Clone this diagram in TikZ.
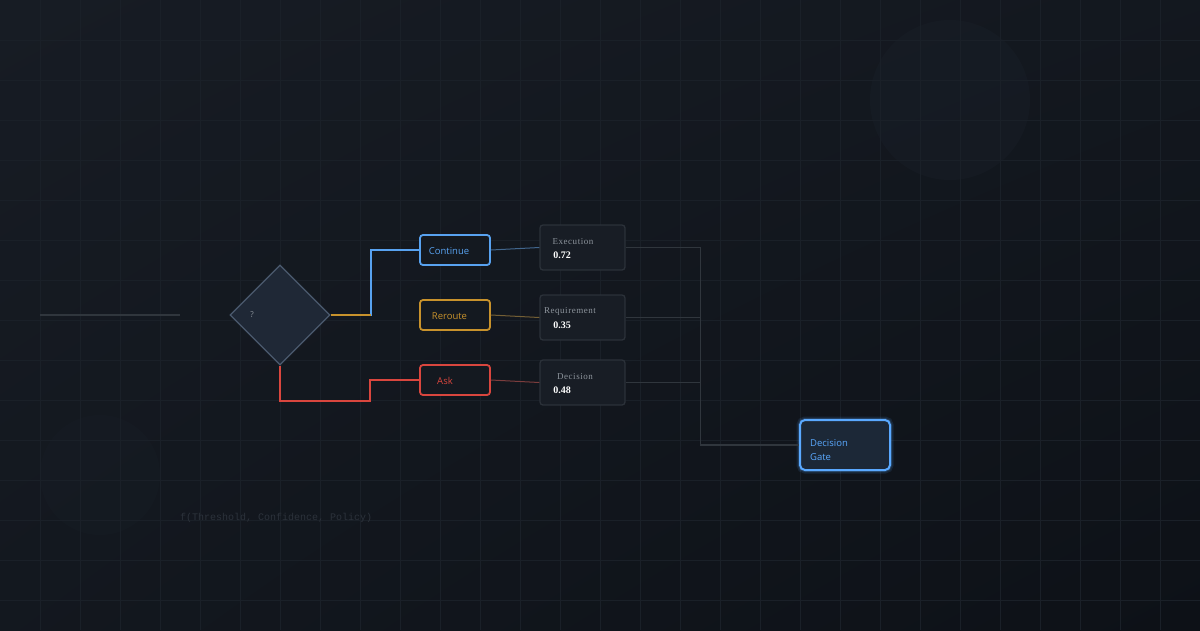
\documentclass[tikz,border=0pt]{standalone}
\usepackage{fontspec}
\setmainfont{Liberation Serif}
\setsansfont{Open Sans}
\setmonofont{Liberation Mono}
\newfontfamily\scorefont[LetterSpace=6]{Liberation Serif}
\usetikzlibrary{shapes.geometric,shadings,calc}
\definecolor{bgA}{HTML}{171C24}
\definecolor{bgB}{HTML}{0D1117}
\definecolor{gridc}{HTML}{1A2028}
\definecolor{orbc}{HTML}{1A2029}
\definecolor{contblue}{HTML}{58A2F0}
\definecolor{rerouteyel}{HTML}{C8922C}
\definecolor{askred}{HTML}{D9463E}
\definecolor{diafill}{HTML}{1F2836}
\definecolor{diaedge}{HTML}{4B5A6E}
\definecolor{boxfill}{HTML}{141920}
\definecolor{scorefill}{HTML}{181D25}
\definecolor{scoreedge}{HTML}{2B3139}
\definecolor{linkgray}{HTML}{30363D}
\definecolor{gatefill}{HTML}{1C2837}
\definecolor{gateblue}{HTML}{5AA9FF}
\definecolor{lblgray}{HTML}{8D949C}
\definecolor{fngray}{HTML}{2C323B}

\begin{document}
\begin{tikzpicture}[
  x=1pt, y=-1pt,
  gridline/.style={gridc, line width=0.7pt},
  orb/.style={fill=orbc, opacity=0.4},
  link/.style={linkgray, line width=1.5pt},
  choice/.style={draw, line width=1.8pt, rounded corners=3pt, fill=boxfill, minimum width=70pt, minimum height=30pt, inner sep=0pt},
  choicetxt/.style={font=\sffamily\fontsize{9.5}{11}\selectfont, yshift=-1pt},
  score/.style={draw=scoreedge, line width=1.3pt, rounded corners=3pt, fill=scorefill, minimum width=85pt, minimum height=45pt, inner sep=0pt},
  scorelbl/.style={text=lblgray, font=\scorefont\fontsize{9}{10}\selectfont, inner sep=0pt},
  scoreval/.style={text=white, font=\bfseries\fontsize{10}{12}\selectfont, inner sep=0pt},
  gatebox/.style={draw=gateblue, line width=2pt, rounded corners=5pt, fill=gatefill, minimum width=90pt, minimum height=50pt, inner sep=0pt,
    preaction={draw=gateblue, opacity=0.12, line width=7pt},
    preaction={draw=gateblue, opacity=0.2, line width=4pt}},
  decide/.style={diamond, draw=diaedge, line width=1.2pt, fill=diafill, minimum width=100pt, minimum height=100pt, inner sep=0pt}
]
\useasboundingbox (0,0) rectangle (1200,630);

% ---- Backdrop ----
\shade[upper left=bgA, upper right=bgA!60!bgB, lower left=bgA!60!bgB, lower right=bgB] (0,0) rectangle (1200,630);
\foreach \gx in {40,80,...,1160} \draw[gridline] (\gx,0) -- (\gx,630);
\foreach \gy in {40,80,...,600} \draw[gridline] (0,\gy) -- (1200,\gy);
\fill[orb] (950,100) circle (80);
\fill[orb, opacity=0.25] (100,475) circle (60);

% ---- Input and decision ----
\coordinate (in0) at (40,315);
\coordinate (in1) at (180,315);
\draw[link] (in0) -- (in1);

\node[decide] (dia) at (280,315) {};
\node[text=lblgray, font=\sffamily\fontsize{8}{9}\selectfont] (qm) at (252,315) {?};

% ---- Choices ----
\node[choice, draw=contblue, label={[choicetxt, text=contblue, xshift=-6pt]center:Continue}] (cont) at (455,250) {};
\node[choice, draw=rerouteyel, label={[choicetxt, text=rerouteyel, xshift=-5.5pt]center:Reroute}] (rer) at (455,315) {};
\node[choice, draw=askred, label={[choicetxt, text=askred, xshift=-10pt]center:Ask}] (ask) at (455,380) {};

\draw[contblue, line width=1.8pt] (dia.east) -- ++(40,0) |- (cont.west);
\draw[rerouteyel, line width=1.8pt] (dia.east) -- ++(40,0);
\draw[askred, line width=1.8pt] (dia.south) |- ++(90,35) |- (ask.west);

% ---- Scores ----
\node[score, label={[scorelbl, xshift=-9.5pt, yshift=6pt]center:Execution}, label={[scoreval, xshift=-20.5pt, yshift=-7.5pt]center:0.72}] (exec) at (582.5,247.5) {};
\node[score, label={[scorelbl, xshift=-12.5pt, yshift=6pt]center:Requirement}, label={[scoreval, xshift=-20.5pt, yshift=-7.5pt]center:0.35}] (req) at (582.5,317.5) {};
\node[score, label={[scorelbl, xshift=-7.5pt, yshift=6pt]center:Decision}, label={[scoreval, xshift=-20.5pt, yshift=-7.5pt]center:0.48}] (dec) at (582.5,382.5) {};

\draw[contblue!45!linkgray, line width=1pt] (cont.east) -- (exec.west);
\draw[rerouteyel!45!linkgray, line width=1pt] (rer.east) -- (req.west);
\draw[askred!45!linkgray, line width=1pt] (ask.east) -- (dec.west);

% ---- Gate ----
\node[gatebox, label={[text=gateblue, font=\sffamily\fontsize{9.5}{14}\selectfont, align=left, inner sep=0pt, xshift=-16pt, yshift=-5.5pt]center:{Decision\\Gate}}] (gate) at (845,445) {};

\draw[link] (exec.east) -- ++(75,0) |- (gate.west);
\draw[link] (req.east) -- ++(75,0);
\draw[link] (dec.east) -- ++(75,0);

% ---- Formula ----
\node[text=fngray, font=\ttfamily\fontsize{10}{12}\selectfont, anchor=west, inner sep=0pt] (fn) at (180,518) {f(Threshold, Confidence, Policy)};

\end{tikzpicture}
\end{document}
